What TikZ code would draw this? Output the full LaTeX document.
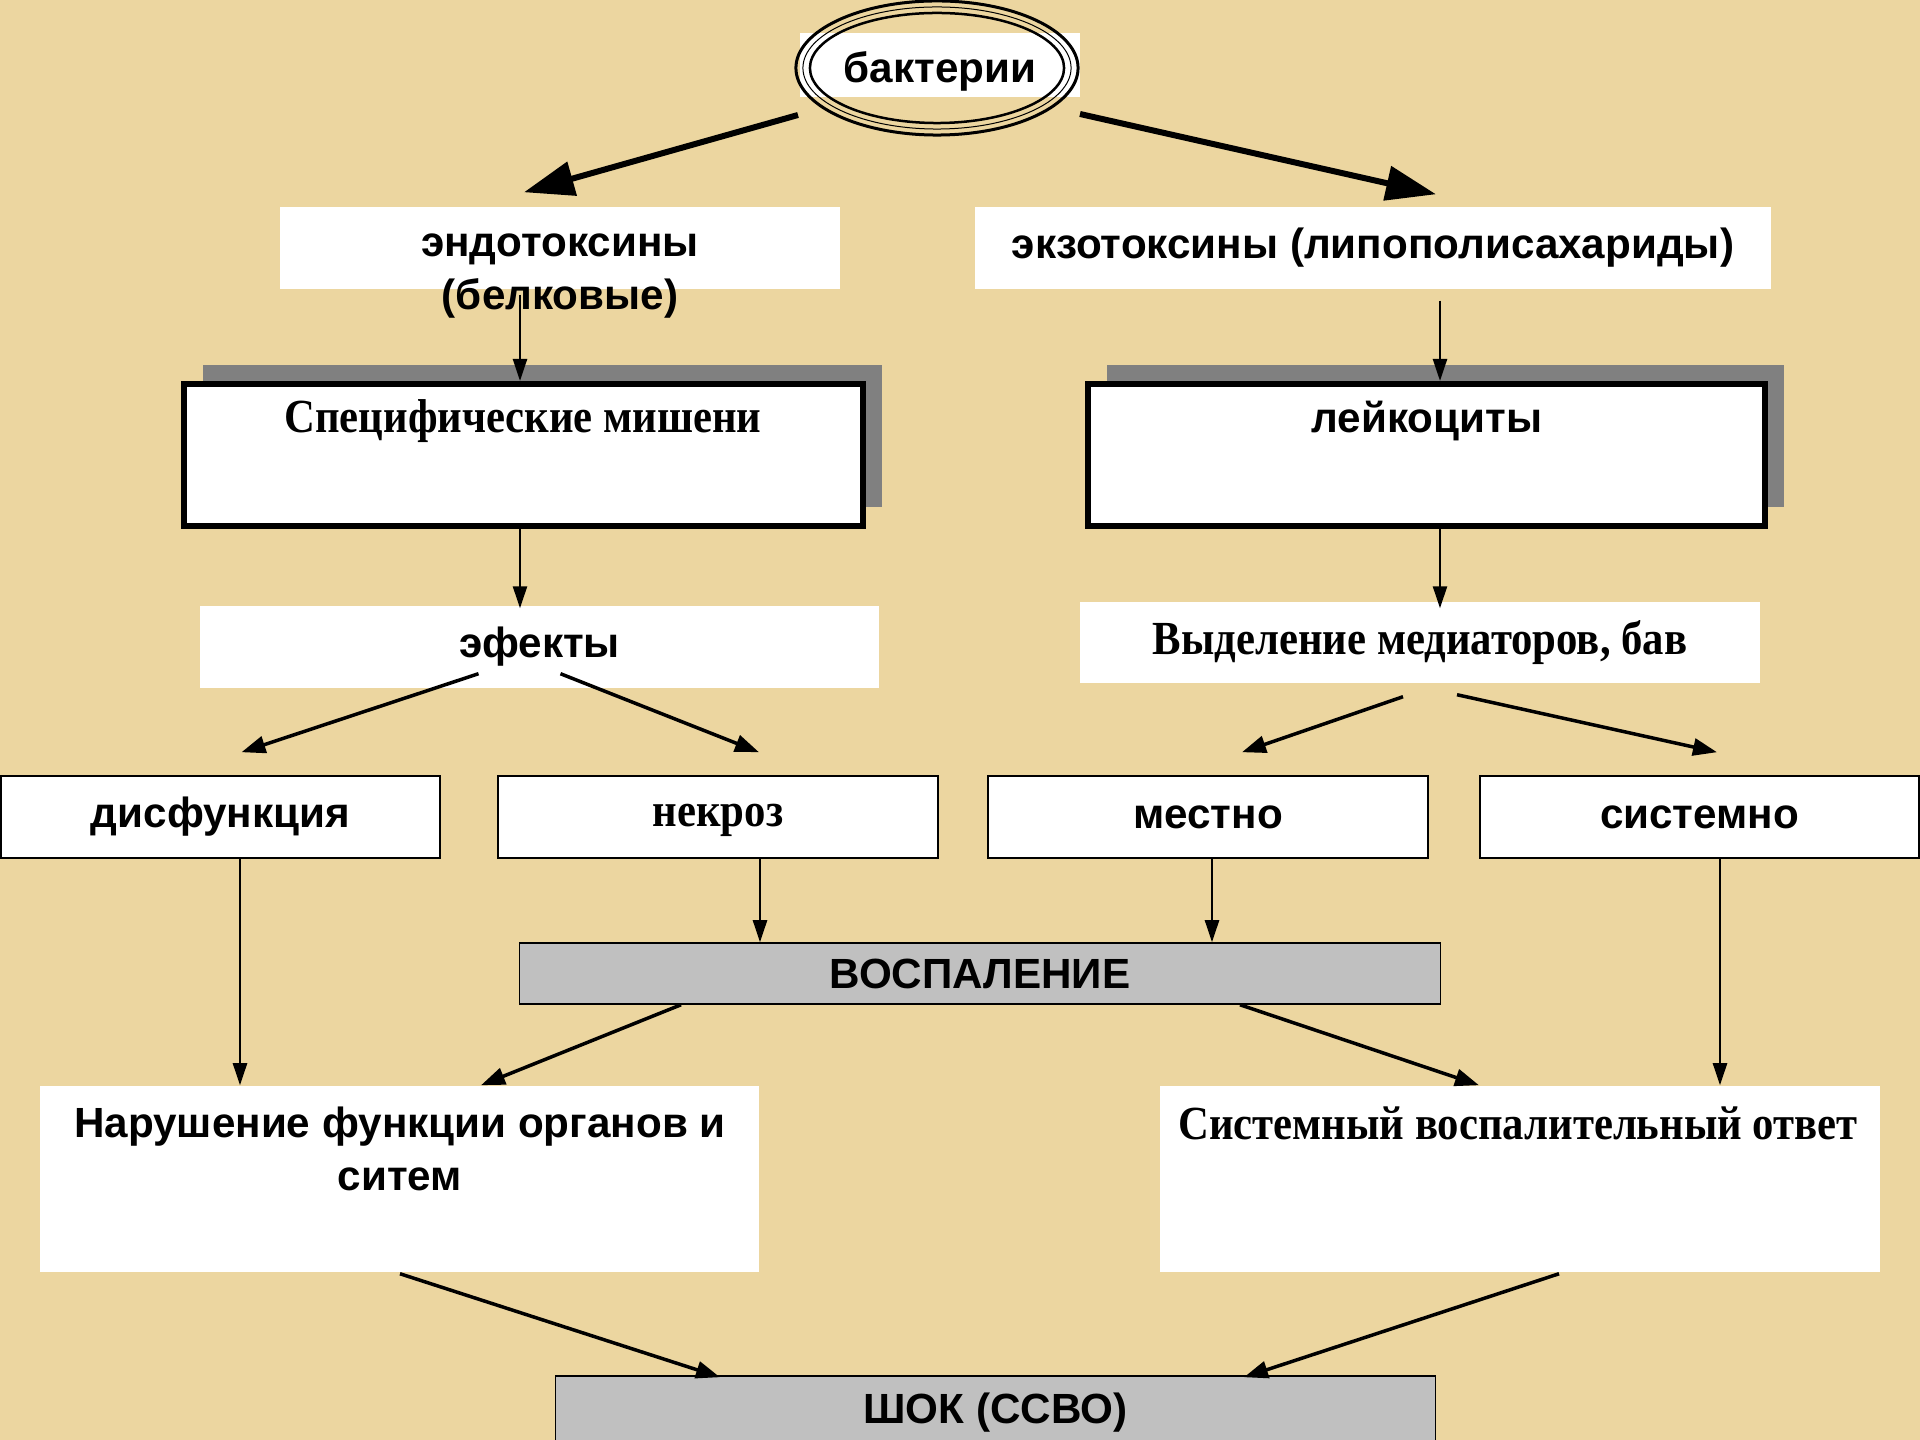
\documentclass[tikz,border=0pt]{standalone}
\usepackage{fontspec}
\setmainfont{Liberation Serif}
\setsansfont{Liberation Sans}
\newfontfamily\narrowserif[FakeStretch=0.9]{Liberation Serif}
\usetikzlibrary{arrows.meta, calc, shapes.geometric, shadows, positioning}
\definecolor{papyrus}{RGB}{236,214,160}
\definecolor{boxgrey}{RGB}{192,192,192}
\definecolor{shadowgrey}{RGB}{128,128,128}
\tikzset{
  sansbold/.style={font=\sffamily\bfseries\fontsize{12}{15}\selectfont},
  serifbold/.style={font=\narrowserif\bfseries\fontsize{13.5}{16}\selectfont},
  plainbox/.style={rectangle, fill=white, inner sep=0pt},
  framebox/.style={rectangle, draw=black, line width=0.06cm, fill=white, inner sep=0pt,
    drop shadow={shadow xshift=0.19cm, shadow yshift=0.19cm, fill=shadowgrey, opacity=1}},
  rowbox/.style={rectangle, draw=black, line width=0.015cm, fill=white, inner sep=0pt},
  greybox/.style={rectangle, draw=black, line width=0.015cm, fill=boxgrey, inner sep=0pt},
  bigarrow/.style={line width=0.06cm, -{Triangle[length=0.5cm,width=0.34cm]}},
  midarrow/.style={line width=0.035cm, -{Triangle[length=0.24cm,width=0.17cm]}},
  thinarrow/.style={line width=0.025cm, -{Triangle[length=0.22cm,width=0.14cm]}}
}
\begin{document}
\begin{tikzpicture}[x=0.01cm, y=-0.01cm]

% background
\fill[papyrus] (0,0) rectangle (1920,1440);
\useasboundingbox (0,0) rectangle (1920,1440);

% bacteria
\node (bacttxt) [plainbox, sansbold, minimum width=2.8cm, text height=0.5cm, text depth=0.14cm] at (940,65) {бактерии};
\node (bact) [ellipse, draw, line width=0.03cm, minimum width=2.82cm, minimum height=1.34cm] at (937,68) {};
\draw[line width=0.01cm] (bact.center) ellipse (1.34cm and 0.61cm);
\draw[line width=0.025cm] (bact.center) ellipse (1.27cm and 0.55cm);

% toxins
\node (endo) [plainbox, minimum width=5.6cm, minimum height=0.82cm] at (560,248) {};
\node (endotxt) [sansbold, align=center] at (560,276) {эндотоксины\\(белковые)};
\node (exo) [plainbox, sansbold, minimum width=7.96cm, minimum height=0.82cm] at (1373,248) {экзотоксины (липополисахариды)};

% targets
\node (spec) [framebox, minimum width=6.79cm, minimum height=1.42cm] at (523.5,455) {};
\node (spectxt) [serifbold] at (523,421) {Специфические мишени};
\node (leuk) [framebox, minimum width=6.77cm, minimum height=1.42cm] at (1426.5,455) {};
\node (leuktxt) [sansbold] at (1427,421) {лейкоциты};

% effects
\node (eff) [plainbox, sansbold, minimum width=6.79cm, minimum height=0.82cm] at (539.5,647) {эфекты};
\node (vyd) [plainbox, serifbold, minimum width=6.8cm, minimum height=0.81cm] at (1420,642.5) {Выделение медиаторов, бав};

% row
\node (dys) [rowbox, sansbold, minimum width=4.39cm, minimum height=0.82cm] at (220.5,817) {дисфункция};
\node (nekr) [rowbox, minimum width=4.4cm, minimum height=0.82cm] at (718,817) {};
\node (nekrtxt) [serifbold] at (718,820) {некроз};
\node (mest) [rowbox, sansbold, minimum width=4.4cm, minimum height=0.82cm] at (1208,817) {местно};
\node (sist) [rowbox, sansbold, minimum width=4.39cm, minimum height=0.82cm] at (1699.5,817) {системно};

% inflammation
\node (vosp) [greybox, sansbold, minimum width=9.2cm, minimum height=0.61cm] at (980,973.5) {ВОСПАЛЕНИЕ};

% consequences
\node (narush) [plainbox, minimum width=7.19cm, minimum height=1.86cm] at (399.5,1179) {};
\node (narushtxt) [sansbold, align=center] at (400,1149) {Нарушение функции органов и\\ситем};
\node (svo) [plainbox, minimum width=7.2cm, minimum height=1.86cm] at (1520,1179) {};
\node (svotxt) [serifbold] at (1518,1123) {Системный воспалительный ответ};

% shock
\node (shock) [greybox, sansbold, minimum width=8.79cm, minimum height=0.74cm] at (995.5,1413) {ШОК (ССВО)};

% arrows
\draw [bigarrow] ($(bact.center)+(-139,47)$) -- ($(endo.north)+(-36,-14)$);
\draw [bigarrow] ($(bact.center)+(143,46)$) -- ($(exo.north)+(63,-12)$);

\draw [thinarrow] ($(endo.south)+(-40,5)$) -- ($(spec.north)+(-3.5,0)$);
\draw [thinarrow] ($(exo.south)+(67,11)$) -- ($(leuk.north)+(13.5,0)$);
\draw [thinarrow] ($(spec.south)+(-3.5,0)$) -- ($(eff.north)+(-19.5,3)$);
\draw [thinarrow] ($(leuk.south)+(13.5,0)$) -- ($(vyd.north)+(20,7)$);

\draw [midarrow] ($(eff.south)+(-61,-15)$) -- ($(dys.north)+(21,-23)$);
\draw [midarrow] ($(eff.south)+(21,-15)$) -- ($(nekr.north)+(41,-23)$);
\draw [midarrow] ($(vyd.south)+(-17,13)$) -- ($(mest.north)+(34,-23)$);
\draw [midarrow] ($(vyd.south)+(37,11)$) -- ($(sist.north)+(17.5,-23)$);

\draw [thinarrow] ($(dys.south)+(19.5,0)$) -- ($(narush.north)+(-159.5,0)$);
\draw [thinarrow] ($(nekr.south)+(42,0)$) -- ($(vosp.north)+(-220,0)$);
\draw [thinarrow] ($(mest.south)+(4,0)$) -- ($(vosp.north)+(232,0)$);
\draw [thinarrow] ($(sist.south)+(20.5,0)$) -- ($(svo.north)+(200,0)$);

\draw [midarrow] ($(vosp.south)+(-299,0)$) -- ($(narush.north)+(81.5,0)$);
\draw [midarrow] ($(vosp.south)+(260,0)$) -- ($(svo.north)+(-41,0)$);

\draw [midarrow] ($(narush.south)+(0.5,1)$) -- ($(shock.north)+(-275.5,2)$);
\draw [midarrow] ($(svo.south)+(39,1)$) -- ($(shock.north)+(248.5,2)$);

\end{tikzpicture}
\end{document}
